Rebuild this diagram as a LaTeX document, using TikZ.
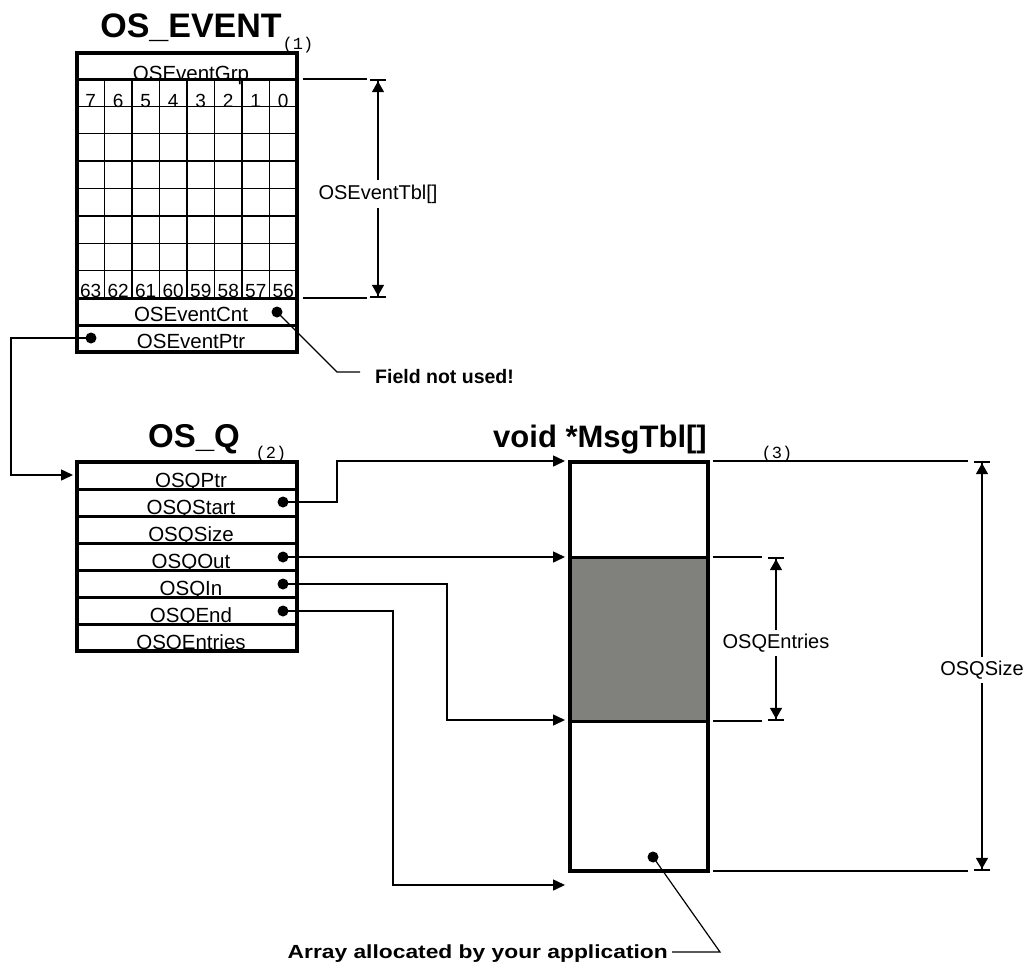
\documentclass[tikz,border=0pt]{standalone}
\usepackage{fontspec}
\setmainfont{Liberation Sans}
\newfontfamily\monofont{Liberation Mono}
\newfontfamily\widefont[FakeStretch=1.2]{Liberation Sans}
\usetikzlibrary{arrows.meta}
\begin{document}
\begin{tikzpicture}[x=1pt,y=-1pt,
  fld/.style={anchor=base,inner sep=0pt,font=\fontsize{20.5}{20.5}\selectfont},
  num/.style={anchor=base,inner sep=0pt,font=\fontsize{19}{19}\selectfont},
  ttl/.style={anchor=base,inner sep=0pt,font=\fontsize{34}{34}\selectfont\bfseries},
  tag/.style={inner sep=0pt,font=\fontsize{17}{17}\selectfont\monofont},
  dimlbl/.style={fill=white,inner sep=4pt,font=\fontsize{20}{20}\selectfont},
  note/.style={inner sep=0pt,font=\fontsize{19.5}{19.5}\selectfont\bfseries},
  gridline/.style={line width=1.4pt},
  thickline/.style={line width=3pt},
  boxline/.style={line width=3.5pt},
  dot/.style={circle,fill=black,inner sep=0pt,minimum size=11pt},
  conn/.style={line width=1.5pt,-{Triangle[length=12pt,width=11pt]}},
  leader/.style={line width=1.2pt},
  extline/.style={line width=1.5pt},
  dimarrow/.style={line width=1.5pt,-{Triangle[length=11pt,width=12pt]Bar[width=16pt,line width=2.2pt]}}
]
\useasboundingbox (0,0) rectangle (1027,972);

% ---------------- OS_EVENT ----------------
\node[ttl] (evttitle) at (191,37) {OS\_EVENT};
\node[tag] (evttag) at (298,45) {(1)};
\node[fld] (grp) at (191,80) {OSEventGrp};
\foreach \i/\t in {0/7,1/6,2/5,3/4,4/3,5/2,6/1,7/0}
  \node[num] (top\i) at (90.75+27.5*\i,107) {\t};
\foreach \i/\t in {0/63,1/62,2/61,3/60,4/59,5/58,6/57,7/56}
  \node[num] (bot\i) at (90.75+27.5*\i,297) {\t};
\node[fld] (cnt) at (191,321) {OSEventCnt};
\node[fld] (ptr) at (191,348) {OSEventPtr};

\foreach \i in {1,...,7}
  \draw[gridline] (77+27.5*\i,79) -- (77+27.5*\i,298);
\foreach \j in {1,...,7}
  \draw[gridline] (77,79+27.375*\j) -- (297,79+27.375*\j);
\draw[thickline] (77,79) -- (297,79);
\draw[thickline] (77,298) -- (297,298);
\draw[thickline] (77,325) -- (297,325);
\draw[boxline] (77,53) rectangle (297,352);

\node[dot] (cntdot) at (277,312) {};
\node[dot] (ptrdot) at (91,338) {};

% OSEventTbl dimension
\draw[extline] (303,79) -- (367,79);
\draw[extline] (303,298) -- (367,298);
\node[dimlbl] (tbl) at (378,194) {OSEventTbl[]};
\coordinate (tbltop) at (378,79);
\coordinate (tblbot) at (378,298);
\draw[dimarrow] (tbl.north) -- (tbltop);
\draw[dimarrow] (tbl.south) -- (tblbot);

% Field not used
\coordinate (fnbend) at (337,372);
\coordinate (fnend) at (360,372);
\node[note,anchor=west] (fieldnote) at (375,377) {Field not used!};
\draw[leader] (cntdot.center) -- (fnbend) -- (fnend);

% ---------------- OS_Q ----------------
\node[ttl,font=\fontsize{33}{33}\selectfont\bfseries] (qtitle) at (194,447) {OS\_Q};
\node[tag] (qtag) at (271,454) {(2)};
\node[fld] (qptr) at (191,487) {OSQPtr};
\node[fld] (qstart) at (191,514) {OSQStart};
\node[fld] (qsize) at (191,541) {OSQSize};
\node[fld] (qout) at (191,568) {OSQOut};
\node[fld] (qin) at (191,595) {OSQIn};
\node[fld] (qend) at (191,622) {OSQEnd};
\node[fld] (qentries) at (191,649) {OSQEntries};
\foreach \y in {489,516,543,570,597,624}
  \draw[thickline] (77,\y) -- (297,\y);
\draw[boxline] (77,462) rectangle (297,651);

\node[dot] (startdot) at (283,502) {};
\node[dot] (outdot) at (283,557) {};
\node[dot] (indot) at (283,584) {};
\node[dot] (enddot) at (283,611) {};

% OSEventPtr -> OS_Q
\coordinate (qin-arrow) at (73,475);
\draw[conn] (ptrdot.center) -- (11,338) -- (11,475) -- (qin-arrow);

% ---------------- MsgTbl ----------------
\node[ttl,font=\fontsize{31}{31}\selectfont\bfseries] (mtitle) at (600,447) {void *MsgTbl[]};
\node[tag] (mtag) at (777,454) {(3)};
\fill[fill={rgb,255:red,128;green,128;blue,125}] (570,557) rectangle (708,721);
\draw[thickline] (570,557) -- (708,557);
\draw[thickline] (570,721) -- (708,721);
\draw[line width=4.5pt] (570,462) rectangle (708,871);
\node[dot] (arrdot) at (653,857) {};

\coordinate (mtop) at (565,461);
\coordinate (mout) at (565,557);
\coordinate (min) at (565,720);
\coordinate (mend) at (565,885);
\draw[conn] (startdot.center) -- (337,502) -- (337,461) -- (mtop);
\draw[conn] (outdot.center) -- (mout);
\draw[conn] (indot.center) -- (447,584) -- (447,720) -- (min);
\draw[conn] (enddot.center) -- (393,611) -- (393,885) -- (mend);

% OSQEntries dimension
\draw[extline] (713,557) -- (762,557);
\draw[extline] (713,721) -- (762,721);
\node[dimlbl] (entlbl) at (776,643) {OSQEntries};
\coordinate (enttop) at (776,557);
\coordinate (entbot) at (776,721);
\draw[dimarrow] (entlbl.north) -- (enttop);
\draw[dimarrow] (entlbl.south) -- (entbot);

% OSQSize dimension
\draw[extline] (713,461) -- (968,461);
\draw[extline] (713,871) -- (968,871);
\node[dimlbl] (sizelbl) at (982,670) {OSQSize};
\coordinate (sizetop) at (982,461);
\coordinate (sizebot) at (982,871);
\draw[dimarrow] (sizelbl.north) -- (sizetop);
\draw[dimarrow] (sizelbl.south) -- (sizebot);

% Array note
\coordinate (arrbend) at (720,952);
\coordinate (arrend) at (672,952);
\node[note,anchor=east,font=\fontsize{19}{19}\selectfont\widefont\bfseries] (arrnote) at (668,954) {Array allocated by your application};
\draw[leader] (arrdot.center) -- (arrbend) -- (arrend);
\end{tikzpicture}
\end{document}
